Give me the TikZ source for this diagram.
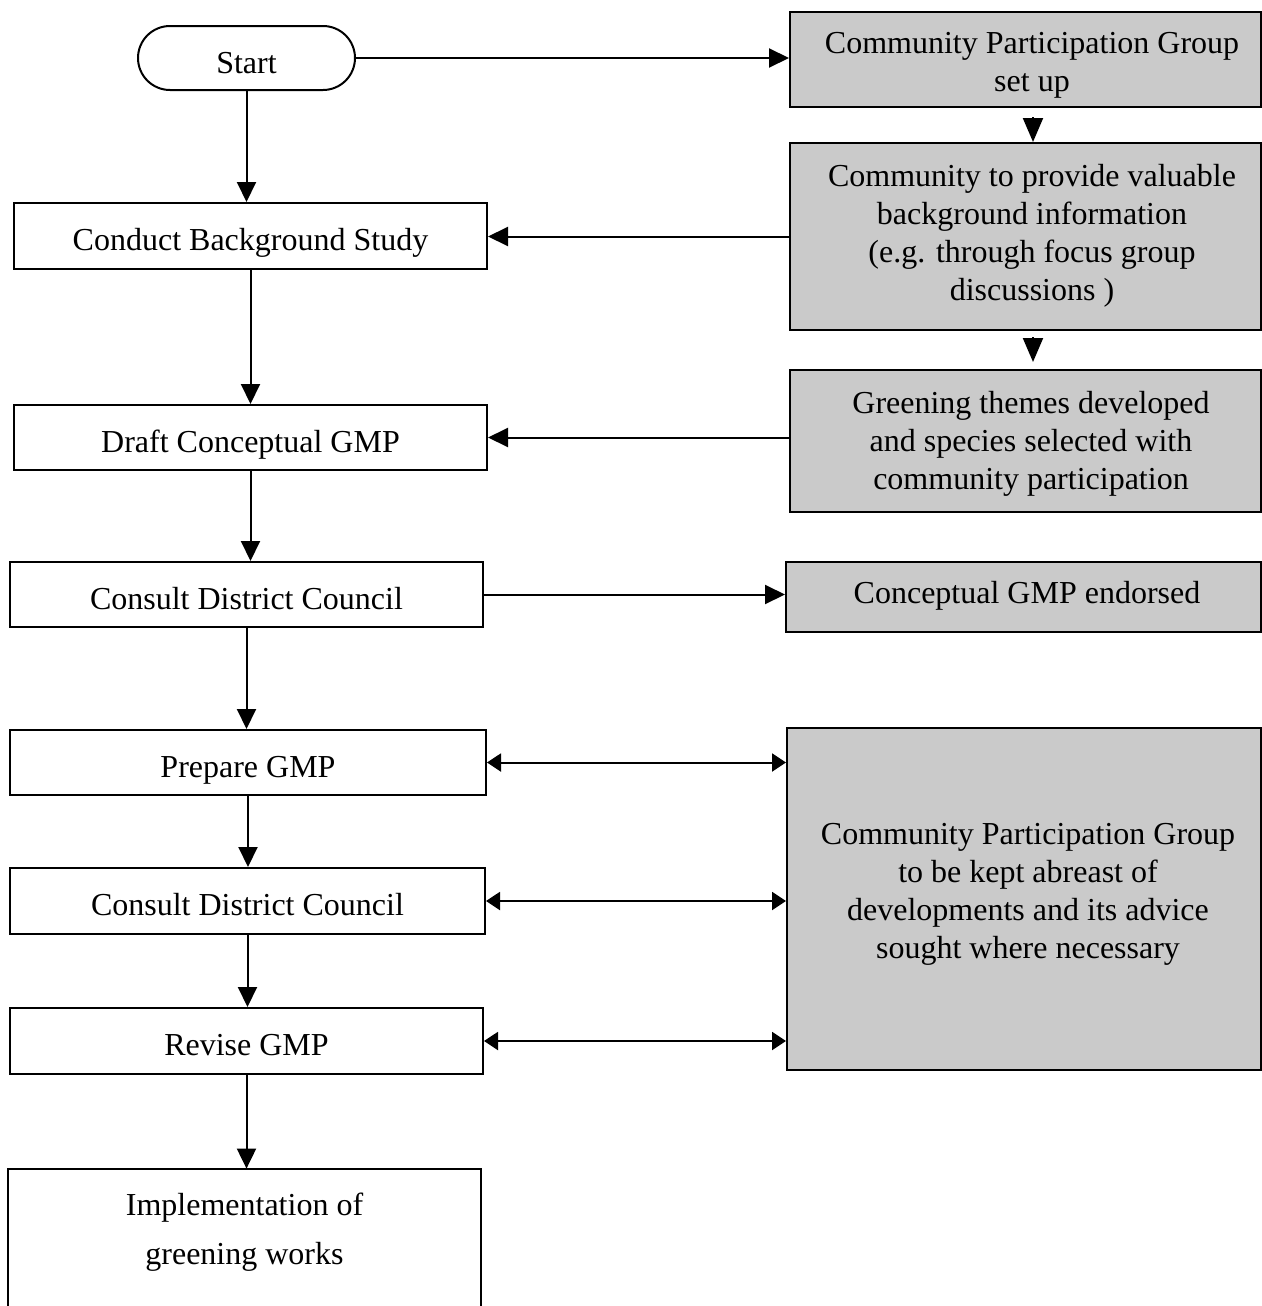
\documentclass[tikz,border=0pt]{standalone}
\usepackage{fontspec}
\setmainfont{Liberation Serif}
\usetikzlibrary{arrows.meta,shapes.misc}
\definecolor{boxgray}{HTML}{CACACA}
\begin{document}
\begin{tikzpicture}[x=0.5pt,y=-0.5pt,
  every node/.style={font=\fontsize{16}{19}\selectfont},
  lbox/.style={draw,line width=1pt,rectangle,minimum height=33pt,inner sep=0pt,text height=14.5pt,text depth=0pt},
  rbox/.style={draw,line width=1pt,rectangle,fill=boxgray,inner sep=0pt},
  rtext/.style={align=center,inner sep=0pt},
  arr/.style={line width=1pt,-{Triangle[length=10pt,width=9.5pt]}},
  darr/.style={line width=1pt,{Triangle[length=7pt,width=9pt]}-{Triangle[length=7pt,width=9pt]}}]
\useasboundingbox (0,0) rectangle (1262,1306);
% left column
\node[draw,line width=1pt,rounded rectangle,minimum width=108.5pt,minimum height=32pt,inner sep=0pt,text height=15pt,text depth=0pt] (start) at (246.5,58) {Start};
\node[lbox,minimum width=236.5pt] (cbs) at (250.5,236) {Conduct Background Study};
\node[lbox,minimum width=236.5pt,minimum height=32.5pt] (draft) at (250.5,437.5) {Draft Conceptual GMP};
\node[lbox,minimum width=236.5pt,minimum height=32.5pt] (cdc1) at (246.5,594.5) {Consult District Council};
\node[lbox,minimum width=238pt,minimum height=32.5pt] (prep) at (248,762.5) {Prepare GMP};
\node[lbox,minimum width=237.5pt] (cdc2) at (247.5,901) {Consult District Council};
\node[lbox,minimum width=236.5pt] (rev) at (246.5,1041) {Revise GMP};
\node[rectangle,minimum width=236.5pt,minimum height=63pt,inner sep=0pt,align=center,
      font=\fontsize{16}{24.5}\selectfont] (impl) at (244.5,1232) {Implementation of\\greening works};
\draw[line width=1pt] ([yshift=-20pt]impl.south west) -- (impl.north west) -- (impl.north east) -- ([yshift=-20pt]impl.south east);
% right column boxes
\node[rbox,minimum width=235.5pt,minimum height=47.5pt] (cpg) at (1025.5,59.5) {};
\node[rbox,minimum width=235.5pt,minimum height=93.5pt] (comm) at (1025.5,236.5) {};
\node[rbox,minimum width=235.5pt,minimum height=71pt] (green) at (1025.5,441) {};
\node[rbox,minimum width=237.5pt,minimum height=35pt] (endorsed) at (1023.5,597) {};
\node[rbox,minimum width=237pt,minimum height=171pt] (big) at (1024,899) {};
% right column texts
\node[rtext] (cpgtext) at (1032,65.5) {Community Participation Group\\set up};
\node[rtext] (commtext) at (1032,235.5) {Community to provide valuable\\background information\\(e.g. through focus group\\discussions )};
\node[rtext] (greentext) at (1031,444) {Greening themes developed\\and species selected with\\community participation};
\node[rtext] (endorsedtext) at (1027,596) {Conceptual GMP endorsed};
\node[rtext] (bigtext) at (1028,894.5) {Community Participation Group\\to be kept abreast of\\developments and its advice\\sought where necessary};
% short connectors between right boxes
\coordinate (t1) at (1033,117);
\coordinate (t1e) at (1033,142);
\coordinate (t2) at (1033,337);
\coordinate (t2e) at (1033,362);
\draw[line width=1pt,-{Triangle[length=12pt,width=10pt]}] (t1) -- (t1e);
\draw[line width=1pt,-{Triangle[length=12pt,width=10pt]}] (t2) -- (t2e);
% vertical flow
\draw[arr] (start.south) -- (start.south |- cbs.north);
\draw[arr] (cbs.south) -- (cbs.south |- draft.north);
\draw[arr] (draft.south) -- (draft.south |- cdc1.north);
\draw[arr] (cdc1.south) -- (cdc1.south |- prep.north);
\draw[arr] (prep.south) -- (prep.south |- cdc2.north);
\draw[arr] (cdc2.south) -- (cdc2.south |- rev.north);
\draw[arr] (rev.south) -- (rev.south |- impl.north);
% horizontal connectors
\draw[arr] (start.east) -- (start.east -| cpg.west);
\draw[arr] (comm.west) -- (comm.west -| cbs.east);
\draw[arr] (draft.east -| green.west) -- (draft.east);
\draw[arr] (cdc1.east) -- (cdc1.east -| endorsed.west);
\draw[darr] (prep.east) -- (prep.east -| big.west);
\draw[darr] (cdc2.east) -- (cdc2.east -| big.west);
\draw[darr] (rev.east) -- (rev.east -| big.west);
\end{tikzpicture}
\end{document}
